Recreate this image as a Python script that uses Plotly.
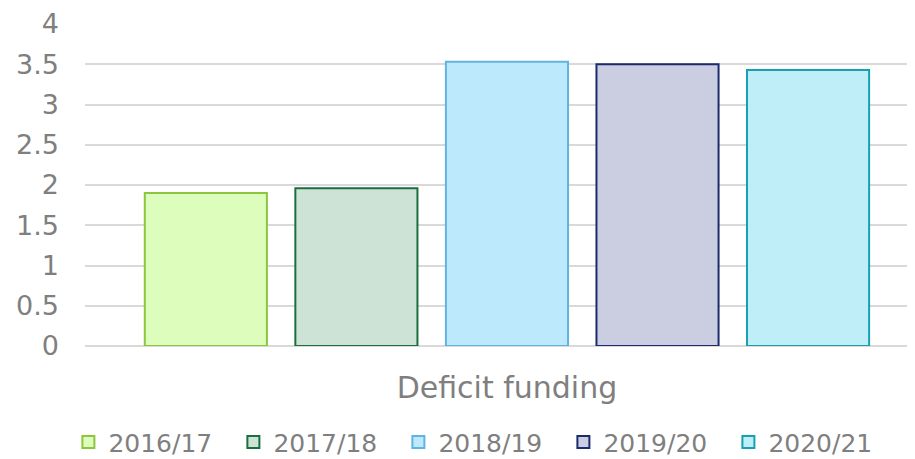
import plotly.graph_objects as go

categories = ["Deficit funding"]
years = ["2016/17", "2017/18", "2018/19", "2019/20", "2020/21"]
values = [1.90, 1.96, 3.53, 3.50, 3.43]
fill_colors = ["#ddfdbd", "#cce3d5", "#bce9fc", "#cbcde0", "#c0eef8"]
line_colors = ["#8cc63f", "#1b6e3e", "#5fb4e3", "#1b2b6e", "#17a0b0"]

tick_vals = [0, 0.5, 1, 1.5, 2, 2.5, 3, 3.5, 4]
tick_text = ["0", "0.5", "1", "1.5", "2", "2.5", "3", "3.5", "4"]

font_family = "DejaVu Sans, Verdana, sans-serif"
text_color = "#7f7f7f"

fig = go.Figure()
for yr, v, fc, lc in zip(years, values, fill_colors, line_colors):
    fig.add_trace(go.Bar(
        name=yr,
        x=categories,
        y=[v],
        marker=dict(color=fc, line=dict(color=lc, width=2)),
    ))

fig.update_layout(
    width=915,
    height=459,
    paper_bgcolor="white",
    plot_bgcolor="white",
    margin=dict(l=77, r=0, t=16, b=121, autoexpand=False),
    barmode="group",
    bargap=0.108,
    bargroupgap=0.189,
    font=dict(family=font_family, color=text_color),
    showlegend=True,
    legend=dict(
        orientation="h",
        xref="container",
        x=0.066,
        xanchor="left",
        yref="container",
        y=0.054,
        yanchor="middle",
        font=dict(size=25, color=text_color, family=font_family),
        itemwidth=30,
        entrywidth=120,
        traceorder="normal",
    ),
    xaxis=dict(
        type="category",
        automargin=False,
        range=[-0.5, 0.493],
        showgrid=False,
        showline=False,
        zeroline=False,
        ticks="outside",
        ticklen=15,
        tickcolor="rgba(0,0,0,0)",
        tickfont=dict(size=30, color=text_color, family=font_family),
    ),
    yaxis=dict(
        automargin=False,
        range=[0, 4],
        tickvals=tick_vals,
        ticktext=tick_text,
        showgrid=True,
        gridcolor="#d9d9d9",
        gridwidth=2,
        zeroline=True,
        zerolinecolor="#d9d9d9",
        zerolinewidth=2,
        showline=False,
        ticks="",
        ticklabelstandoff=25,
        tickfont=dict(size=27, color=text_color, family=font_family),
    ),
)

fig.write_html("out.html")
